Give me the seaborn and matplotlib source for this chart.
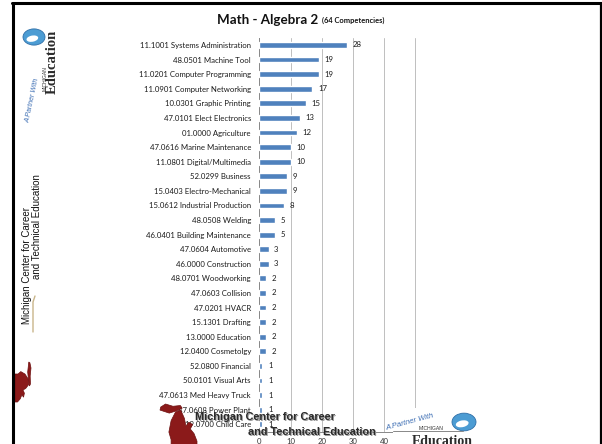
import matplotlib
matplotlib.use("Agg")
import matplotlib.pyplot as plt
from matplotlib.patches import Polygon, Circle, Rectangle, Ellipse
from matplotlib.lines import Line2D
import seaborn as sns
import pandas as pd

# Competency counts per program (CIP code + program name)
programs = [
    "11.1001 Systems Administration", "48.0501 Machine Tool",
    "11.0201 Computer Programming", "11.0901 Computer Networking",
    "10.0301 Graphic Printing", "47.0101 Elect Electronics",
    "01.0000 Agriculture", "47.0616 Marine Maintenance",
    "11.0801 Digital/Multimedia", "52.0299 Business",
    "15.0403 Electro-Mechanical", "15.0612 Industrial Production",
    "48.0508 Welding", "46.0401 Building Maintenance",
    "47.0604 Automotive", "46.0000 Construction",
    "48.0701 Woodworking", "47.0603 Collision", "47.0201 HVACR",
    "15.1301 Drafting", "13.0000 Education", "12.0400 Cosmetolgy",
    "52.0800 Financial", "50.0101 Visual Arts", "47.0613 Med Heavy Truck",
    "47.0608 Power Plant", "19.0700 Child Care",
]
competencies = [28, 19, 19, 17, 15, 13, 12, 10, 10, 9, 9, 8, 5, 5,
                3, 3, 2, 2, 2, 2, 2, 2, 1, 1, 1, 1, 1]
x_ticks = [0, 10, 20, 30, 40, 50, 60]

df = pd.DataFrame({"program": programs, "count": competencies})

sns.set_theme(style="white")
plt.rcParams["font.family"] = ["Lato", "DejaVu Sans"]

W, H = 602, 444
fig = plt.figure(figsize=(W / 100, H / 100), dpi=100)
fig.patch.set_facecolor("white")


def fx(px):
    return px / W


def fy(py):
    return 1 - py / H


ax = fig.add_axes([fx(259.3), fy(431.5), fx(446.6) - fx(259.3), fy(37.7) - fy(431.5)])
sns.barplot(data=df, x="count", y="program", orient="h", color="#4F81BD",
            saturation=1, width=0.4, ax=ax, zorder=3)
ax.bar_label(ax.containers[0], padding=4, fontsize=5.6, color="#1a1a1a")

ax.set_xlim(x_ticks[0], x_ticks[-1])
ax.set_xticks(x_ticks)
ax.set_xticklabels([str(t) for t in x_ticks], fontsize=5.6, color="#333333")
ax.set_xlabel("")
ax.set_ylabel("")
ax.tick_params(axis="y", labelsize=5.6, labelcolor="#1a1a1a", length=0, pad=6)
ax.tick_params(axis="x", length=0, pad=5)
ax.set_yticks(range(len(programs)))
ax.set_yticks([i - 0.5 for i in range(len(programs) + 1)], minor=True)
ax.tick_params(axis="y", which="minor", length=2.5, color="#888888", width=0.6)
ax.xaxis.grid(True, color="#BEBEBE", linewidth=0.7, zorder=0)
for side in ["top", "right"]:
    ax.spines[side].set_visible(False)
ax.spines["left"].set_color("#888888")
ax.spines["left"].set_linewidth(0.7)
ax.spines["bottom"].set_color("#888888")
ax.spines["bottom"].set_linewidth(0.7)

# Title with the competency total in smaller type right after it
title = fig.text(fx(217), fy(20), "Math - Algebra 2", fontsize=9.6,
                 fontweight="bold", ha="left", va="center", color="#111111")
ax.annotate("(64 Competencies)", xy=(1, 0.5), xycoords=title,
            xytext=(3, -0.5), textcoords="offset points",
            fontsize=5.4, fontweight="bold", ha="left", va="center",
            color="#111111", annotation_clip=False)

# Slide frame
fig.add_artist(Line2D([fx(13), fx(13)], [0, fy(3)], color="black", lw=2.2,
                      transform=fig.transFigure))
fig.add_artist(Line2D([fx(12), fx(601)], [fy(3), fy(3)], color="black", lw=2.2,
                      transform=fig.transFigure))
fig.add_artist(Line2D([fx(600.5), fx(600.5)], [0, fy(3)], color="black", lw=1.6,
                      transform=fig.transFigure))

# Mitten outline used for the Michigan mark (unit square, x right, y up)
mitten = [(0.30, 0.00), (1.00, 0.00), (1.00, 0.18), (0.92, 0.38), (0.82, 0.50),
          (0.88, 0.62), (0.78, 0.68), (0.70, 0.58), (0.66, 0.78), (0.56, 1.00),
          (0.42, 0.95), (0.30, 0.72), (0.24, 0.42), (0.30, 0.22)]
upper = [(0.00, 1.00), (0.25, 0.92), (0.45, 0.98), (0.60, 1.05), (0.55, 1.12),
         (0.35, 1.10), (0.15, 1.16), (0.02, 1.08)]


def draw_mark(x0, y0, w, h, rotate=False):
    for shape in (mitten, upper):
        pts = []
        for u, v in shape:
            if rotate:
                px, py = x0 + v * w / 1.16, y0 + u * h
            else:
                px, py = x0 + u * w, y0 + h - v * h / 1.16
            pts.append((fx(px), fy(py)))
        fig.add_artist(Polygon(pts, closed=True, facecolor="#8B1A1A",
                               edgecolor="#6E1010", lw=0.5,
                               transform=fig.transFigure))


def draw_globe(cx, cy, r):
    fig.add_artist(Circle((fx(cx), fy(cy)), r / W, facecolor="#4C9CD3",
                          edgecolor="#2F6FA8", lw=0.6, transform=fig.transFigure))
    fig.add_artist(Ellipse((fx(cx - r * 0.15), fy(cy + r * 0.15)), 1.1 * r / W,
                           0.55 * r / H, angle=20, facecolor="white",
                           edgecolor="none", transform=fig.transFigure))


# Vertical partner logo along the left edge
draw_mark(15, 362, 16, 40, rotate=True)
fig.add_artist(Line2D([fx(33), fx(33), fx(35)], [fy(332), fy(302), fy(296)],
                      color="#C9B58A", lw=1.0, transform=fig.transFigure))
fig.text(fx(27), fy(266), "Michigan Center for Career", rotation=90,
         fontsize=7.0, family="Liberation Sans", color="#111111",
         ha="center", va="center")
fig.text(fx(37.5), fy(227), "and Technical Education", rotation=90,
         fontsize=7.0, family="Liberation Sans", color="#111111",
         ha="center", va="center")
fig.text(fx(33), fy(100), "A Partner With", rotation=78, fontsize=5,
         family="Liberation Sans", style="italic", color="#3B6DB3",
         ha="center", va="center")
draw_globe(34, 37, 11)
fig.text(fx(45), fy(79), "MICHIGAN", rotation=90, fontsize=3.6,
         family="Liberation Sans", color="#333333", ha="center", va="center")
fig.text(fx(52), fy(62), "Education", rotation=90, fontsize=10.5,
         family="Liberation Serif", fontweight="bold", color="#2b2b2b",
         ha="center", va="center")

# Horizontal partner logo along the bottom edge
fig.add_artist(Rectangle((fx(393), 0), (490 - 393) / W, fy(408),
                         facecolor="white", edgecolor="none",
                         transform=fig.transFigure))
fig.add_artist(Line2D([fx(393), fx(463)], [fy(430.5), fy(430.5)], color="#888888",
                      lw=0.7, transform=fig.transFigure))
draw_mark(160, 404, 37, 44)
for dx, dy, col in ((1, 1, "#9a9a9a"), (0, 0, "#2a2a2a")):
    fig.text(fx(195 + dx), fy(417 + dy), "Michigan Center for Career",
             fontsize=7.8, family="Liberation Sans", fontweight="bold",
             color=col, ha="left", va="center")
    fig.text(fx(248 + dx), fy(432 + dy), "and Technical Education",
             fontsize=7.8, family="Liberation Sans", fontweight="bold",
             color=col, ha="left", va="center")
fig.text(fx(410), fy(422), "A Partner With", rotation=15, fontsize=5.5,
         family="Liberation Sans", style="italic", color="#3B6DB3",
         ha="center", va="center")
draw_globe(464, 422, 12)
fig.text(fx(431), fy(428), "MICHIGAN", fontsize=3.6,
         family="Liberation Sans", color="#333333", ha="center", va="center")
fig.text(fx(442), fy(441), "Education", fontsize=10,
         family="Liberation Serif", fontweight="bold", color="#2b2b2b",
         ha="center", va="center")

fig.savefig("out.png", dpi=100)
